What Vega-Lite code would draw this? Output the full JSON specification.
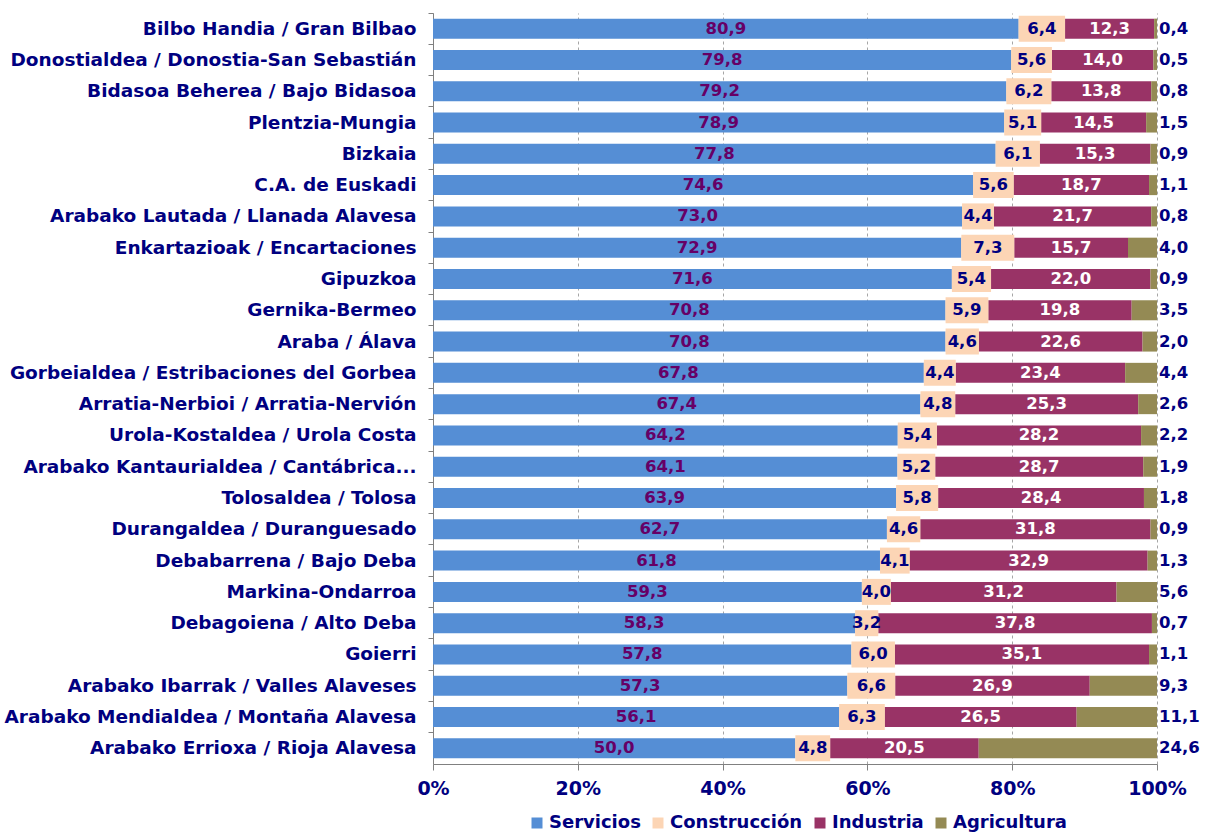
{
  "$schema": "https://vega.github.io/schema/vega-lite/v6.json",
  "width": 724,
  "height": 751,
  "autosize": {"type": "none"},
  "padding": {"left": 433, "top": 13, "right": 49, "bottom": 70},
  "background": "white",
  "config": {
    "locale": {"number": {"decimal": ",", "thousands": ".", "grouping": [3], "currency": ["", " €"]}},
    "view": {"stroke": null},
    "font": "DejaVu Sans"
  },
  "data": {
    "values": [
      {"region": "Bilbo Handia / Gran Bilbao", "Servicios": 80.9, "Construcción": 6.4, "Industria": 12.3, "Agricultura": 0.4},
      {"region": "Donostialdea / Donostia-San Sebastián", "Servicios": 79.8, "Construcción": 5.6, "Industria": 14.0, "Agricultura": 0.5},
      {"region": "Bidasoa Beherea / Bajo Bidasoa", "Servicios": 79.2, "Construcción": 6.2, "Industria": 13.8, "Agricultura": 0.8},
      {"region": "Plentzia-Mungia", "Servicios": 78.9, "Construcción": 5.1, "Industria": 14.5, "Agricultura": 1.5},
      {"region": "Bizkaia", "Servicios": 77.8, "Construcción": 6.1, "Industria": 15.3, "Agricultura": 0.9},
      {"region": "C.A. de Euskadi", "Servicios": 74.6, "Construcción": 5.6, "Industria": 18.7, "Agricultura": 1.1},
      {"region": "Arabako Lautada / Llanada Alavesa", "Servicios": 73.0, "Construcción": 4.4, "Industria": 21.7, "Agricultura": 0.8},
      {"region": "Enkartazioak / Encartaciones", "Servicios": 72.9, "Construcción": 7.3, "Industria": 15.7, "Agricultura": 4.0},
      {"region": "Gipuzkoa", "Servicios": 71.6, "Construcción": 5.4, "Industria": 22.0, "Agricultura": 0.9},
      {"region": "Gernika-Bermeo", "Servicios": 70.8, "Construcción": 5.9, "Industria": 19.8, "Agricultura": 3.5},
      {"region": "Araba / Álava", "Servicios": 70.8, "Construcción": 4.6, "Industria": 22.6, "Agricultura": 2.0},
      {"region": "Gorbeialdea / Estribaciones del Gorbea", "Servicios": 67.8, "Construcción": 4.4, "Industria": 23.4, "Agricultura": 4.4},
      {"region": "Arratia-Nerbioi / Arratia-Nervión", "Servicios": 67.4, "Construcción": 4.8, "Industria": 25.3, "Agricultura": 2.6},
      {"region": "Urola-Kostaldea / Urola Costa", "Servicios": 64.2, "Construcción": 5.4, "Industria": 28.2, "Agricultura": 2.2},
      {"region": "Arabako Kantaurialdea / Cantábrica...", "Servicios": 64.1, "Construcción": 5.2, "Industria": 28.7, "Agricultura": 1.9},
      {"region": "Tolosaldea / Tolosa", "Servicios": 63.9, "Construcción": 5.8, "Industria": 28.4, "Agricultura": 1.8},
      {"region": "Durangaldea / Duranguesado", "Servicios": 62.7, "Construcción": 4.6, "Industria": 31.8, "Agricultura": 0.9},
      {"region": "Debabarrena / Bajo Deba", "Servicios": 61.8, "Construcción": 4.1, "Industria": 32.9, "Agricultura": 1.3},
      {"region": "Markina-Ondarroa", "Servicios": 59.3, "Construcción": 4.0, "Industria": 31.2, "Agricultura": 5.6},
      {"region": "Debagoiena / Alto Deba", "Servicios": 58.3, "Construcción": 3.2, "Industria": 37.8, "Agricultura": 0.7},
      {"region": "Goierri", "Servicios": 57.8, "Construcción": 6.0, "Industria": 35.1, "Agricultura": 1.1},
      {"region": "Arabako Ibarrak / Valles Alaveses", "Servicios": 57.3, "Construcción": 6.6, "Industria": 26.9, "Agricultura": 9.3},
      {"region": "Arabako Mendialdea / Montaña Alavesa", "Servicios": 56.1, "Construcción": 6.3, "Industria": 26.5, "Agricultura": 11.1},
      {"region": "Arabako Errioxa / Rioja Alavesa", "Servicios": 50.0, "Construcción": 4.8, "Industria": 20.5, "Agricultura": 24.6}
    ]
  },
  "transform": [
    {"fold": ["Servicios", "Construcción", "Industria", "Agricultura"], "as": ["cat", "value"]},
    {"calculate": "indexof(['Servicios','Construcción','Industria','Agricultura'], datum.cat)", "as": "o"},
    {"stack": "value", "groupby": ["region"], "sort": [{"field": "o", "order": "ascending"}], "offset": "normalize", "as": ["v0", "v1"]},
    {"calculate": "(datum.v0 + datum.v1) / 2", "as": "mid"}
  ],
  "encoding": {
    "y": {
      "field": "region",
      "type": "nominal",
      "title": null,
      "scale": {
        "domain": ["Bilbo Handia / Gran Bilbao", "Donostialdea / Donostia-San Sebastián", "Bidasoa Beherea / Bajo Bidasoa", "Plentzia-Mungia", "Bizkaia", "C.A. de Euskadi", "Arabako Lautada / Llanada Alavesa", "Enkartazioak / Encartaciones", "Gipuzkoa", "Gernika-Bermeo", "Araba / Álava", "Gorbeialdea / Estribaciones del Gorbea", "Arratia-Nerbioi / Arratia-Nervión", "Urola-Kostaldea / Urola Costa", "Arabako Kantaurialdea / Cantábrica...", "Tolosaldea / Tolosa", "Durangaldea / Duranguesado", "Debabarrena / Bajo Deba", "Markina-Ondarroa", "Debagoiena / Alto Deba", "Goierri", "Arabako Ibarrak / Valles Alaveses", "Arabako Mendialdea / Montaña Alavesa", "Arabako Errioxa / Rioja Alavesa"],
        "paddingInner": 0,
        "paddingOuter": 0
      },
      "axis": {
        "bandPosition": 0,
        "tickSize": 5,
        "tickColor": "#808080",
        "domainColor": "#808080",
        "labelPadding": 12,
        "labelFontSize": 18.5,
        "labelFontWeight": "bold",
        "labelColor": "#000080",
        "labelLimit": 500,
        "grid": false
      }
    }
  },
  "layer": [
    {
      "mark": {"type": "bar", "height": {"band": 0.64}},
      "encoding": {
        "x": {
          "field": "v0",
          "type": "quantitative",
          "title": null,
          "scale": {"domain": [0, 1], "nice": false},
          "axis": {
            "values": [0, 0.2, 0.4, 0.6, 0.8, 1],
            "format": ".0%",
            "grid": true,
            "gridDash": [3, 3],
            "gridColor": "#A6A6A6",
            "tickSize": 6,
            "tickColor": "#808080",
            "domainColor": "#808080",
            "labelFlush": false,
            "labelPadding": 9,
            "labelFontSize": 19,
            "labelFontWeight": "bold",
            "labelColor": "#000080"
          }
        },
        "x2": {"field": "v1"},
        "color": {
          "field": "cat",
          "type": "nominal",
          "scale": {
            "domain": ["Servicios", "Construcción", "Industria", "Agricultura"],
            "range": ["#558ED5", "#FCD5B5", "#993366", "#948A54"]
          },
          "legend": {
            "title": null,
            "orient": "none",
            "direction": "horizontal",
            "legendX": 95,
            "legendY": 801,
            "symbolType": "square",
            "symbolSize": 121,
            "symbolStrokeWidth": 0,
            "labelFontSize": 18,
            "labelFontWeight": "bold",
            "labelColor": "#000080",
            "labelOffset": 3,
            "columnPadding": 8
          }
        }
      }
    },
    {
      "transform": [{"filter": "datum.cat === 'Construcción'"}],
      "mark": {"type": "bar", "height": {"band": 0.83}, "color": "#FCD5B5"},
      "encoding": {
        "x": {"field": "v0", "type": "quantitative"},
        "x2": {"field": "v1"}
      }
    },
    {
      "transform": [{"filter": "datum.cat !== 'Agricultura'"}],
      "mark": {"type": "text", "fontWeight": "bold", "fontSize": 16.5, "baseline": "middle", "align": "center"},
      "encoding": {
        "x": {"field": "mid", "type": "quantitative"},
        "text": {"field": "value", "type": "quantitative", "format": ".1f"},
        "color": {
          "condition": [
            {"test": "datum.cat === 'Industria'", "value": "white"},
            {"test": "datum.cat === 'Servicios'", "value": "#660066"}
          ],
          "value": "#000080"
        }
      }
    },
    {
      "transform": [{"filter": "datum.cat === 'Agricultura'"}],
      "mark": {"type": "text", "fontWeight": "bold", "fontSize": 16.5, "baseline": "middle", "align": "left", "dx": 2, "color": "#000080"},
      "encoding": {
        "x": {"field": "v1", "type": "quantitative"},
        "text": {"field": "value", "type": "quantitative", "format": ".1f"}
      }
    }
  ]
}
